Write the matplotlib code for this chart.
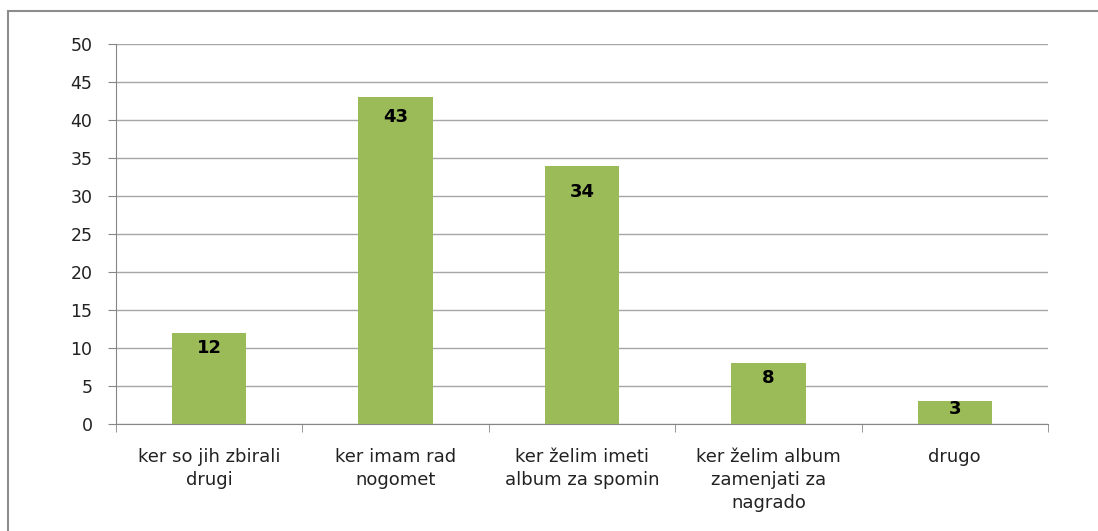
import matplotlib
matplotlib.use("Agg")
import matplotlib.pyplot as plt
from matplotlib.patches import Rectangle
from matplotlib.ticker import FixedLocator

categories = ["ker so jih zbirali\ndrugi", "ker imam rad\nnogomet", "ker želim imeti\nalbum za spomin",
              "ker želim album\nzamenjati za\nnagrado", "drugo"]
values = [12, 43, 34, 8, 3]
y_ticks = [0, 5, 10, 15, 20, 25, 30, 35, 40, 45, 50]
label_offsets_px = [15, 20, 26, 15, 8]

plt.rcParams['font.family'] = ['DejaVu Sans']

fig = plt.figure(figsize=(10.98, 5.31), dpi=100)
W, H = 1098, 531
ax = fig.add_axes([116 / W, (H - 424) / H, (1048 - 116) / W, (424 - 44) / H])

grid_c = '#A6A6A6'
axis_c = '#868686'
bar_c = '#9BBB59'

x = list(range(len(values)))
ax.bar(x, values, width=0.4, color=bar_c, zorder=3)
ax.set_xlim(-0.5, len(values) - 0.5)
ax.set_ylim(0, 50)
ax.set_yticks(y_ticks)
ax.yaxis.grid(True, color=grid_c, linewidth=1, zorder=0)
ax.set_axisbelow(True)

for s in ['top', 'right']:
    ax.spines[s].set_visible(False)
ax.spines['left'].set_color(axis_c)
ax.spines['bottom'].set_color(axis_c)

ax.tick_params(axis='y', length=6, color=axis_c, labelsize=12.5, pad=11, labelcolor='#222222')
ax.set_xticks(x)
ax.set_xticklabels(categories, fontsize=13, linespacing=1.36, color='#222222')
ax.tick_params(axis='x', length=0, pad=17)
ax.xaxis.set_minor_locator(FixedLocator([i - 0.5 for i in range(len(values) + 1)]))
ax.tick_params(axis='x', which='minor', length=6, color=axis_c)

for xi, v, off in zip(x, values, label_offsets_px):
    ax.annotate(str(v), (xi, v), xytext=(0, -off * 0.72), textcoords='offset points',
                ha='center', va='center', fontsize=13, fontweight='bold', color='black', zorder=4)

# outer frame (left and top visible)
fig.patches.append(Rectangle((8 / W, -0.1), 1.2, (H - 11) / H + 0.1, transform=fig.transFigure,
                             fill=False, edgecolor='#8C8C8C', linewidth=1.5))

fig.savefig('out.png', dpi=100)
